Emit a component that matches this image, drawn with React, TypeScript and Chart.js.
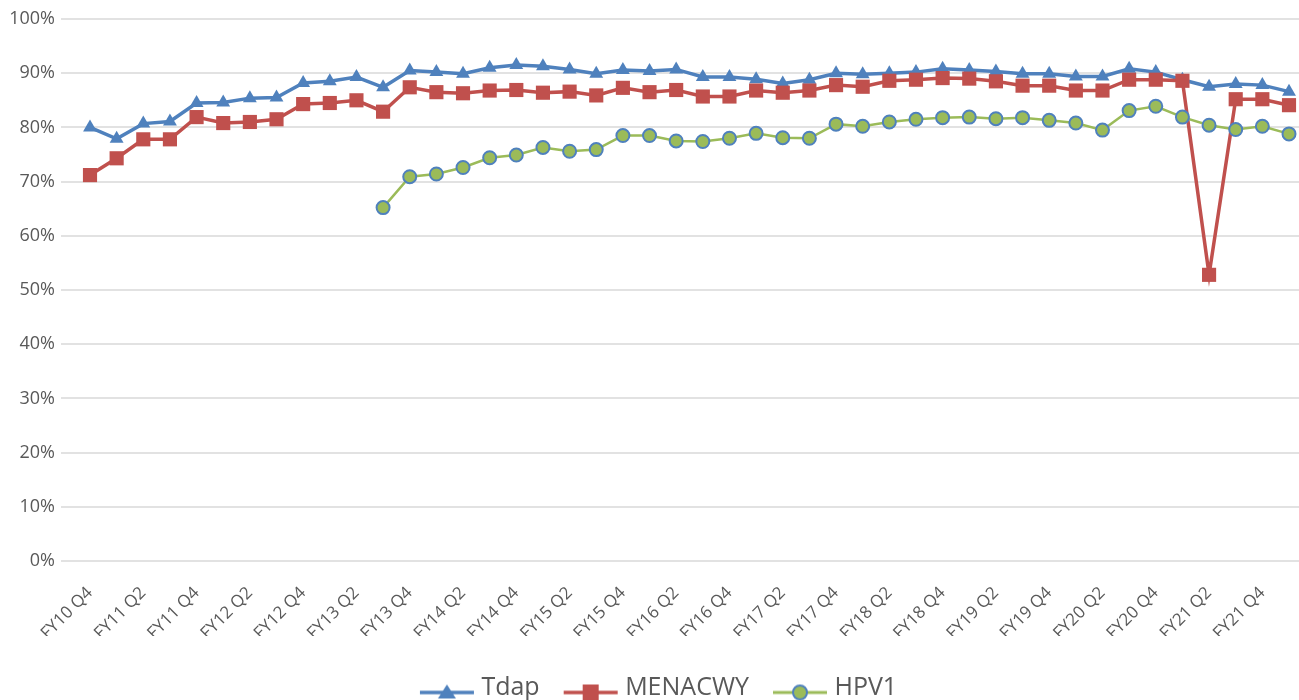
import React, { useEffect, useRef } from 'react';
import { Chart, registerables } from 'chart.js';

Chart.register(...registerables);

const quarterLabels: string[] = [
  'FY10 Q4',
  'FY11 Q1', 'FY11 Q2', 'FY11 Q3', 'FY11 Q4',
  'FY12 Q1', 'FY12 Q2', 'FY12 Q3', 'FY12 Q4',
  'FY13 Q1', 'FY13 Q2', 'FY13 Q3', 'FY13 Q4',
  'FY14 Q1', 'FY14 Q2', 'FY14 Q3', 'FY14 Q4',
  'FY15 Q1', 'FY15 Q2', 'FY15 Q3', 'FY15 Q4',
  'FY16 Q1', 'FY16 Q2', 'FY16 Q3', 'FY16 Q4',
  'FY17 Q1', 'FY17 Q2', 'FY17 Q3', 'FY17 Q4',
  'FY18 Q1', 'FY18 Q2', 'FY18 Q3', 'FY18 Q4',
  'FY19 Q1', 'FY19 Q2', 'FY19 Q3', 'FY19 Q4',
  'FY20 Q1', 'FY20 Q2', 'FY20 Q3', 'FY20 Q4',
  'FY21 Q1', 'FY21 Q2', 'FY21 Q3', 'FY21 Q4',
  'FY22 Q1',
];

const tdapValues: number[] = [
  80.0, 77.9, 80.7, 81.1, 84.5, 84.6, 85.4, 85.5, 88.2, 88.5,
  89.3, 87.4, 90.5, 90.2, 89.9, 91.0, 91.5, 91.3, 90.7, 89.9,
  90.6, 90.4, 90.7, 89.3, 89.3, 88.9, 88.1, 88.8, 90.0, 89.8,
  90.0, 90.2, 90.8, 90.6, 90.3, 89.9, 89.9, 89.4, 89.4, 90.8,
  90.2, 88.8, 87.5, 88.0, 87.8, 86.6,
];

const menacwyValues: number[] = [
  71.2, 74.3, 77.8, 77.8, 81.9, 80.8, 81.0, 81.5, 84.3, 84.5,
  85.0, 82.9, 87.4, 86.5, 86.3, 86.8, 86.9, 86.4, 86.6, 85.9,
  87.3, 86.5, 86.9, 85.7, 85.7, 86.8, 86.4, 86.8, 87.8, 87.5,
  88.6, 88.8, 89.1, 89.0, 88.5, 87.7, 87.7, 86.8, 86.8, 88.8,
  88.8, 88.6, 52.8, 85.2, 85.2, 84.1,
];

const hpv1Values: (number | null)[] = [
  null, null, null, null, null, null, null, null, null, null, null,
  65.2, 70.9, 71.4, 72.6, 74.4, 74.9, 76.3, 75.6, 75.9, 78.5,
  78.5, 77.5, 77.4, 78.0, 78.9, 78.1, 78.0, 80.6, 80.2, 81.0,
  81.5, 81.8, 81.9, 81.6, 81.8, 81.3, 80.8, 79.5, 83.1, 83.9,
  81.9, 80.4, 79.6, 80.2, 78.8,
];

const seriesNames = ['Tdap', 'MENACWY', 'HPV1'];

const BLUE = '#4F81BD';
const RED = '#C0504D';
const GREEN = '#9BBB59';
const TEXT = '#595959';
const GRID = '#D9D9D9';
const FONT = '"Open Sans", Lato, sans-serif';

function makeLegendIcon(kind: 'triangle' | 'square' | 'circle'): HTMLCanvasElement {
  const c = document.createElement('canvas');
  c.width = 56;
  c.height = 30;
  const ctx = c.getContext('2d')!;
  const cy = 20;
  const cx = 28;
  const color = kind === 'triangle' ? BLUE : kind === 'square' ? RED : GREEN;
  ctx.strokeStyle = color;
  ctx.lineWidth = kind === 'circle' ? 3 : 3.5;
  ctx.beginPath();
  ctx.moveTo(1, cy);
  ctx.lineTo(55, cy);
  ctx.stroke();
  if (kind === 'triangle') {
    ctx.fillStyle = BLUE;
    ctx.beginPath();
    ctx.moveTo(cx, cy - 8);
    ctx.lineTo(cx + 9, cy + 6);
    ctx.lineTo(cx - 9, cy + 6);
    ctx.closePath();
    ctx.fill();
  } else if (kind === 'square') {
    ctx.fillStyle = RED;
    ctx.fillRect(cx - 8, cy - 8, 16, 16);
  } else {
    ctx.fillStyle = GREEN;
    ctx.strokeStyle = BLUE;
    ctx.lineWidth = 2;
    ctx.beginPath();
    ctx.arc(cx, cy, 7, 0, Math.PI * 2);
    ctx.fill();
    ctx.stroke();
  }
  return c;
}

const gridPlugin = {
  id: 'extendedGrid',
  beforeDatasetsDraw(chart: any) {
    const y = chart.scales.y;
    const ctx = chart.ctx;
    ctx.save();
    ctx.strokeStyle = GRID;
    ctx.lineWidth = 1.5;
    y.ticks.forEach((t: any) => {
      const py = Math.round(y.getPixelForValue(t.value));
      ctx.beginPath();
      ctx.moveTo(61, py);
      ctx.lineTo(chart.width, py);
      ctx.stroke();
    });
    ctx.restore();
  },
};

const legendShiftPlugin = {
  id: 'legendShift',
  afterLayout(chart: any) {
    const lg = chart.legend;
    if (!lg) return;
    lg.left += 15;
    lg.right += 15;
    lg.top += 10;
    lg.bottom += 10;
  },
};

export default function App() {
  const canvasRef = useRef<HTMLCanvasElement | null>(null);

  useEffect(() => {
    if (!canvasRef.current) return;
    const icons = [makeLegendIcon('triangle'), makeLegendIcon('square'), makeLegendIcon('circle')];
    const chart = new Chart(canvasRef.current, {
      type: 'line',
      data: {
        labels: quarterLabels,
        datasets: [
          {
            label: seriesNames[0],
            data: tdapValues,
            borderColor: BLUE,
            backgroundColor: BLUE,
            borderWidth: 3.5,
            pointStyle: 'triangle',
            pointRadius: 8,
            pointBackgroundColor: BLUE,
            pointBorderColor: BLUE,
            pointBorderWidth: 0,
            tension: 0,
            order: 3,
          },
          {
            label: seriesNames[1],
            data: menacwyValues,
            borderColor: RED,
            backgroundColor: RED,
            borderWidth: 3.5,
            pointStyle: 'rect',
            pointRadius: 10,
            pointBackgroundColor: RED,
            pointBorderColor: RED,
            pointBorderWidth: 0,
            tension: 0,
            order: 2,
          },
          {
            label: seriesNames[2],
            data: hpv1Values,
            borderColor: GREEN,
            backgroundColor: GREEN,
            borderWidth: 2.5,
            pointStyle: 'circle',
            pointRadius: 6.5,
            pointBackgroundColor: GREEN,
            pointBorderColor: BLUE,
            pointBorderWidth: 2,
            tension: 0,
            spanGaps: false,
            order: 1,
          },
        ],
      },
      options: {
        animation: false,
        responsive: true,
        maintainAspectRatio: false,
        layout: { padding: { left: 0, right: 7, top: 19, bottom: 0 } },
        plugins: {
          tooltip: { enabled: false },
          legend: {
            position: 'bottom',
            labels: {
              usePointStyle: true,
              pointStyleWidth: 44,
              padding: 29,
              color: TEXT,
              font: { family: FONT, size: 25 },
              generateLabels: () =>
                seriesNames.map((name, i) => ({
                  text: name,
                  pointStyle: icons[i],
                  fillStyle: 'transparent',
                  strokeStyle: 'transparent',
                  lineWidth: 0,
                  hidden: false,
                  datasetIndex: i,
                  fontColor: TEXT,
                })),
            },
          },
        },
        scales: {
          x: {
            type: 'category',
            offset: false,
            grid: { display: false, drawTicks: false },
            border: { display: false },
            ticks: {
              autoSkip: false,
              maxRotation: 45,
              minRotation: 45,
              padding: 22,
              color: TEXT,
              font: { family: FONT, size: 17 },
              callback: (_v: any, idx: number) => (idx % 2 === 0 ? quarterLabels[idx] : ''),
            },
            afterFit: (s: any) => {
              s.paddingLeft = 0;
              s.paddingRight = 0;
              s.height = 75;
            },
          },
          y: {
            min: 0,
            max: 100,
            grid: { display: false, drawTicks: false },
            border: { display: false },
            ticks: {
              stepSize: 10,
              padding: 35,
              color: TEXT,
              font: { family: FONT, size: 18 },
              callback: (v: any) => v + '%',
            },
            afterFit: (s: any) => {
              s.width = 90;
              s.paddingTop = 0;
              s.paddingBottom = 0;
            },
          },
        },
      },
      plugins: [gridPlugin, legendShiftPlugin],
    });
    return () => chart.destroy();
  }, []);

  return (
    <div style={{ position: 'fixed', left: 0, top: 0, width: 1299, height: 700, background: '#fff' }}>
      <canvas ref={canvasRef} />
    </div>
  );
}
